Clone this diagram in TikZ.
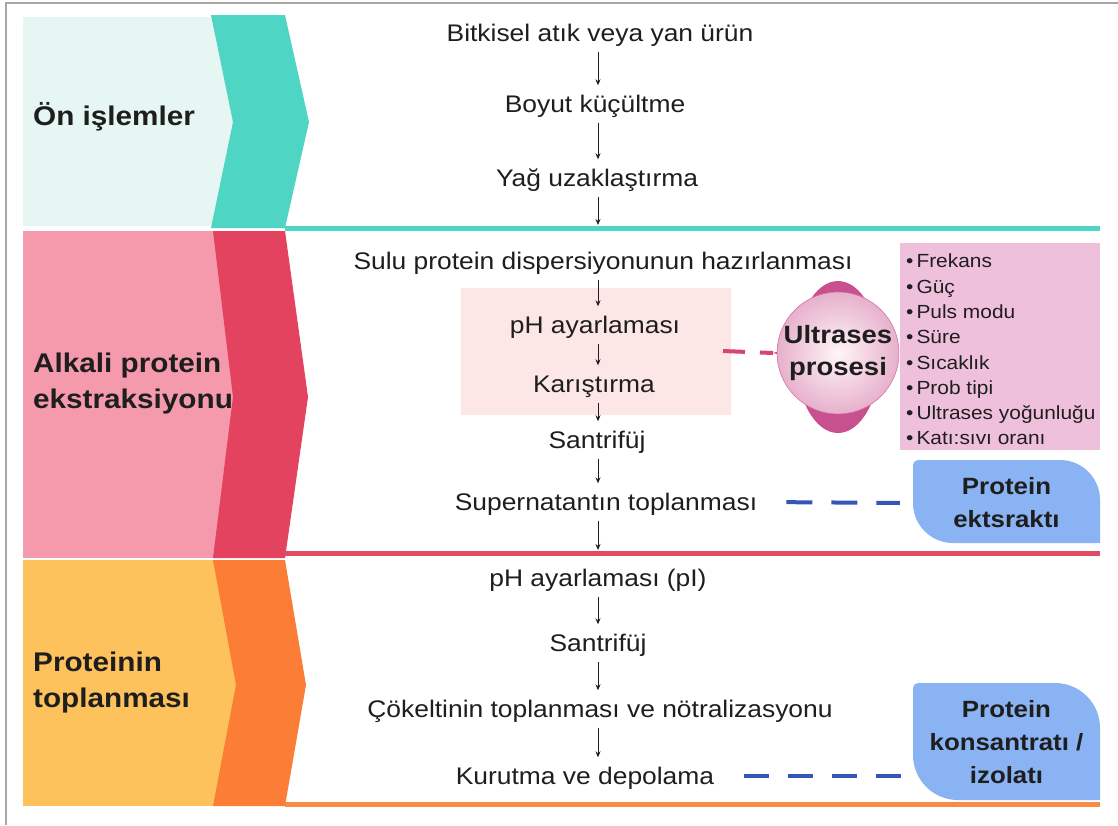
\documentclass[tikz,border=0pt]{standalone}
\usepackage{fontspec}
\setmainfont{Liberation Sans}[FakeStretch=1.1]
\usetikzlibrary{arrows.meta}
\definecolor{tealL}{HTML}{E5F6F3}
\definecolor{tealD}{HTML}{4FD5C3}
\definecolor{pinkL}{HTML}{F59AAC}
\definecolor{redD}{HTML}{E3435F}
\definecolor{yelL}{HTML}{FDC25C}
\definecolor{orngD}{HTML}{FC7D35}
\definecolor{redLine}{HTML}{E24B66}
\definecolor{orngLine}{HTML}{F98C42}
\definecolor{pinkRect}{HTML}{FCE6E6}
\definecolor{paramBox}{HTML}{EFC0DC}
\definecolor{blueBox}{HTML}{89B3F2}
\definecolor{blueDash}{HTML}{3556B9}
\definecolor{redDash}{HTML}{D8466C}
\definecolor{magentaL}{HTML}{C9508F}
\definecolor{txt}{HTML}{1E1E1E}
\begin{document}
\begin{tikzpicture}[x=1pt,y=-1pt,
  flow/.style={text=txt,font=\fontsize{24}{28}\selectfont,text height=17pt,text depth=0pt,inner xsep=2pt,inner ysep=10pt},
  flowarr/.style={-{Stealth[length=6pt,width=5pt]},line width=1pt,txt},
  band/.style={text=txt,font=\bfseries\fontsize{27}{36}\selectfont,align=left,anchor=west,inner sep=0pt},
  param/.style={text=txt,font=\fontsize{19}{22}\selectfont,anchor=base west,inner sep=0pt},
  boxtxt/.style={text=txt,font=\bfseries\fontsize{23.5}{33}\selectfont,align=center},
  sepline/.style={line width=5pt},
  bdash/.style={blueDash,line width=4pt,dash pattern=on 26pt off 19pt},
  rdash/.style={redDash,line width=4pt,dash pattern=on 22pt off 15pt}]
\useasboundingbox (0,0) rectangle (1118,825);
\fill[white] (0,0) rectangle (1118,825);
% frame
\draw[gray!70,line width=1.5pt] (6,825) -- (6,3) -- (1118,3);
% band 1
\fill[tealL] (23,17) rectangle (236,226);
\fill[tealD] (211,15) -- (285,15) -- (309,122) -- (285,228) -- (211,228) -- (233,122) -- cycle;
\draw[tealD,sepline] (285,228) -- (1100,228);
% band 2
\fill[pinkL] (23,231) rectangle (236,558);
\fill[redD] (213,231) -- (285,231) -- (308,397) -- (285,558) -- (213,558) -- (233,397) -- cycle;
\draw[redLine,sepline] (285,553) -- (1100,553);
% band 3
\fill[yelL] (23,560) rectangle (238,806);
\fill[orngD] (213,560) -- (285,560) -- (306,685) -- (285,806) -- (213,806) -- (236,685) -- cycle;
\draw[orngLine,sepline] (285,804) -- (1100,804);
% band labels
\node[band] (b1) at (33,117) {Ön işlemler};
\node[band] (b2) at (33,384) {Alkali protein\\ekstraksiyonu};
\node[band] (b3) at (33,683) {Proteinin\\toplanması};
% pink rect
\fill[pinkRect] (461,288) rectangle (731,415);
% flow
\coordinate (ax) at (598,0);
\node[flow] (s1) at (600,33) {Bitkisel atık veya yan ürün};
\node[flow] (s2) at (595,104) {Boyut küçültme};
\node[flow] (s3) at (597,178) {Yağ uzaklaştırma};
\coordinate (l1) at (598,225);
\node[flow] (s4) at (603,261) {Sulu protein dispersiyonunun hazırlanması};
\node[flow] (s5) at (595,325) {pH ayarlaması};
\node[flow] (s6) at (594,384) {Karıştırma};
\node[flow] (s7) at (597,440) {Santrifüj};
\node[flow] (s8) at (606,502) {Supernatantın toplanması};
\coordinate (l2) at (598,550);
\node[flow] (s9) at (598,578) {pH ayarlaması (pI)};
\node[flow] (s10) at (598,643) {Santrifüj};
\node[flow] (s11) at (600,709) {Çökeltinin toplanması ve nötralizasyonu};
\node[flow] (s12) at (585,776) {Kurutma ve depolama};
\draw[flowarr] (s1.south -| ax) -- (s2.north -| ax);
\draw[flowarr] (s2.south -| ax) -- (s3.north -| ax);
\draw[flowarr] (s3.south -| ax) -- (l1);
\draw[flowarr] (s4.south -| ax) -- (s5.north -| ax);
\draw[flowarr] (s5.south -| ax) -- (s6.north -| ax);
\draw[flowarr] (s6.south -| ax) -- (s7.north -| ax);
\draw[flowarr] (s7.south -| ax) -- (s8.north -| ax);
\draw[flowarr] (s8.south -| ax) -- (l2);
\draw[flowarr] (s9.south -| ax) -- (s10.north -| ax);
\draw[flowarr] (s10.south -| ax) -- (s11.north -| ax);
\draw[flowarr] (s11.south -| ax) -- (s12.north -| ax);
% param box
\fill[paramBox] (900,243) rectangle (1100,450);
\foreach \t [count=\i] in {Frekans,Güç,Puls modu,Süre,Sıcaklık,Prob tipi,Ultrases yoğunluğu,Katı:sıvı oranı}
  \node[param] (p\i) at (906,242.5+25.3*\i) {•\hspace{3pt}\t};
% ultrasound
\fill[magentaL] (838,357) ellipse[x radius=42, y radius=76];
\coordinate (cusp) at (773,353);
\fill[magentaL] (cusp) .. controls (784,351) and (788,342) .. (793,332) -- (793,374) .. controls (788,364) and (784,355) .. (cusp);
\node[circle,minimum size=116pt,inner sep=0pt,draw=magentaL!80,line width=0.6pt,
  inner color=pink!15,outer color=magentaL!45,
  text=txt,font=\bfseries\fontsize{25}{32}\selectfont,align=center] (us) at (838,353) {Ultrases\\prosesi};
\coordinate (rd) at (723,351);
\draw[rdash] (rd) -- (cusp);
% protein extract box
\fill[blueBox] (918,460) -- (1060,460) arc[start angle=-90,end angle=0,radius=40] -- (1100,543) -- (953,543) arc[start angle=90,end angle=180,radius=40] -- (913,465) arc[start angle=180,end angle=270,radius=5] -- cycle;
\node[boxtxt,minimum width=187pt,inner xsep=0pt] (ext) at (1006.5,503) {Protein\\ektsraktı};
\draw[bdash,shorten <=27pt,shorten >=13pt] (s8.east) -- (ext.west);
% concentrate box
\draw[bdash,dash pattern=on 25pt off 19pt] (s12.east) ++(28,0) coordinate (kd) (kd) -- (930,776);
\fill[blueBox] (918,683) -- (1055,683) arc[start angle=-90,end angle=0,radius=45] -- (1100,800) -- (958,800) arc[start angle=90,end angle=180,radius=45] -- (913,688) arc[start angle=180,end angle=270,radius=5] -- cycle;
\node[boxtxt] (kon) at (1006.5,742) {Protein\\konsantratı /\\izolatı};
\end{tikzpicture}
\end{document}
